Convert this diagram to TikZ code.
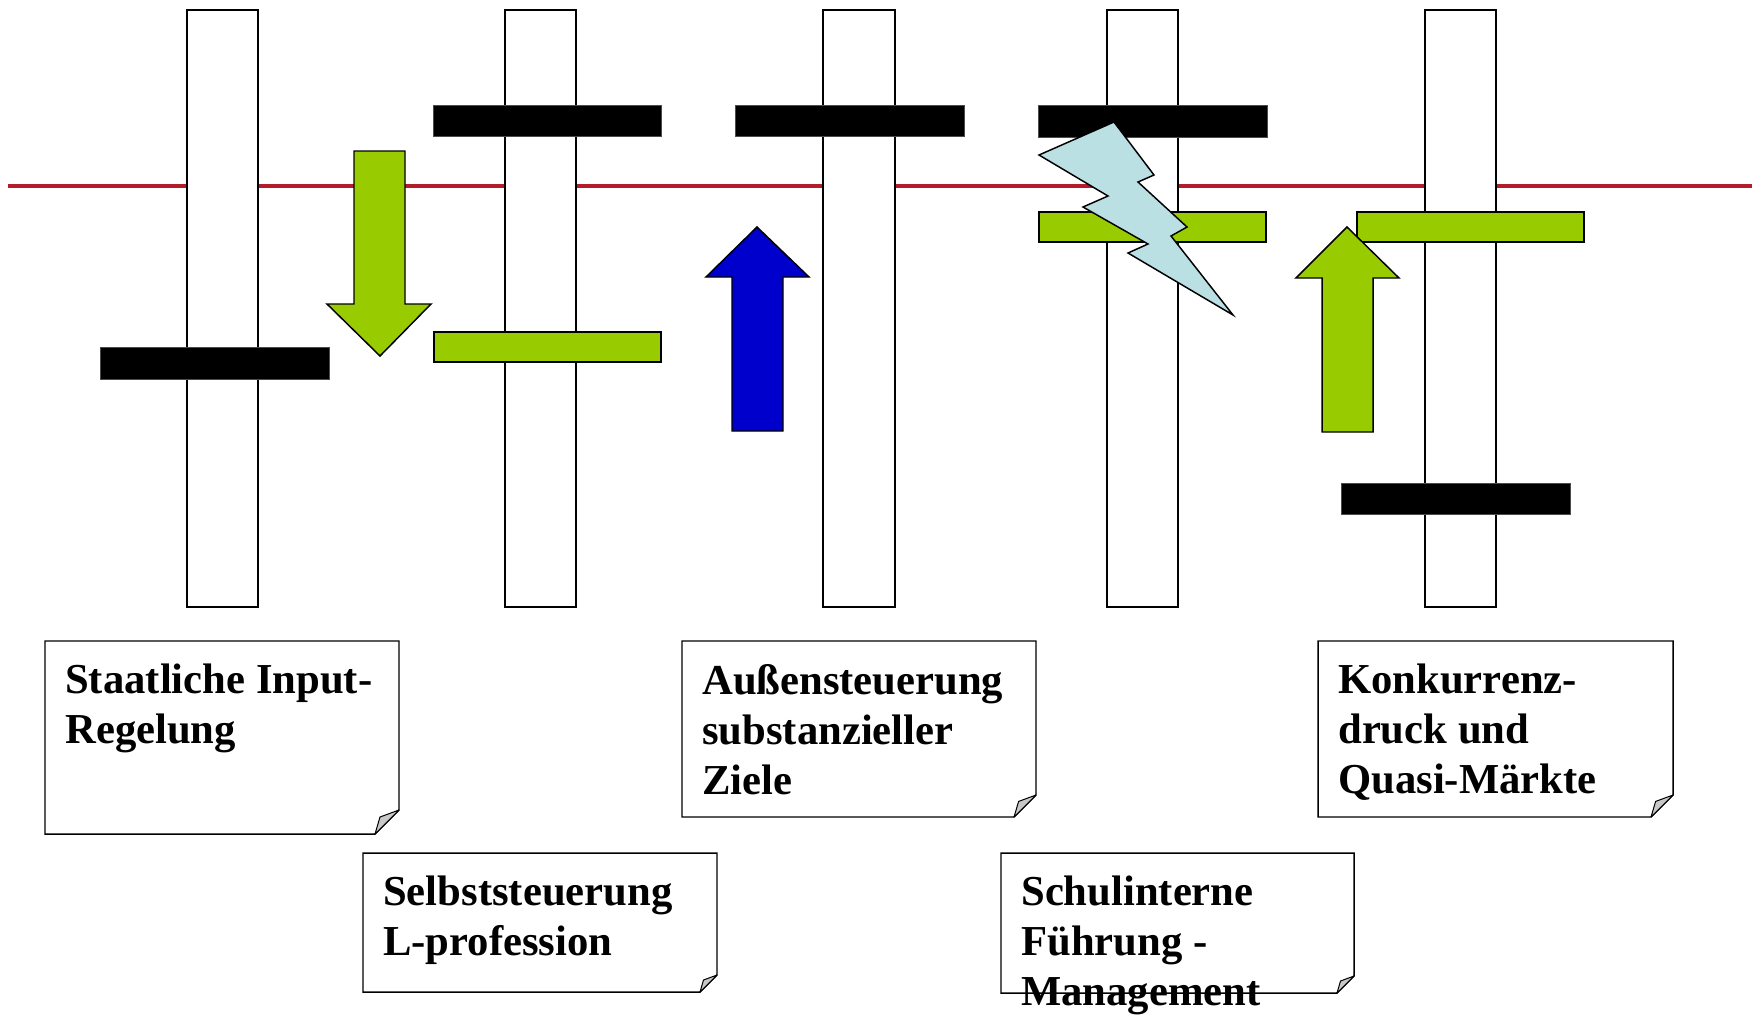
\documentclass[tikz,border=0pt]{standalone}
\usepackage{fontspec}
\setmainfont{Liberation Serif}
\usepackage{tikz}
\usetikzlibrary{positioning}

\definecolor{barGreen}{RGB}{153,204,0}
\definecolor{arrowBlue}{RGB}{0,0,204}
\definecolor{boltBlue}{RGB}{187,224,227}
\definecolor{lineRed}{RGB}{180,28,44}
\definecolor{foldGray}{RGB}{200,200,200}

\tikzset{
  column/.style={draw=black, fill=white, line width=1.1pt},
  blackbar/.style={fill=black, draw=black!70, line width=0.5pt},
  greenbar/.style={fill=barGreen, draw=black, line width=1.1pt},
  blockarrow/.style={draw=black, line width=1.1pt, line join=miter},
  note/.style={draw=black, fill=white, line width=1.1pt},
  fold/.style={draw=black, fill=foldGray, line width=0.75pt, line join=round},
  notetext/.style={anchor=north west, inner sep=0.75pt, align=left,
    font=\fontsize{32}{37.5}\selectfont\bfseries}
}

\begin{document}
\begin{tikzpicture}[x=0.75pt,y=0.75pt,yscale=-1,xscale=1]
		\useasboundingbox (0,0) rectangle (1752,1015);

		%Straight Lines: red level
		\draw [lineRed, line width=3.6pt] (8,186) -- (1752,186) ;

		%Shape: Rectangle columns
		\draw [column] (187,10) rectangle (258,607) ;
		\draw [column] (505,10) rectangle (576,607) ;
		\draw [column] (823,10) rectangle (895,607) ;
		\draw [column] (1107,10) rectangle (1178,607) ;
		\draw [column] (1425,10) rectangle (1496,607) ;

		%Shape: Rectangle bars
		\draw [blackbar] (100,347) rectangle (329,379) ;
		\draw [blackbar] (433,105) rectangle (661,136) ;
		\draw [greenbar] (434,332) rectangle (661,362) ;
		\draw [blackbar] (735,105) rectangle (964,136) ;
		\draw [blackbar] (1038,105) rectangle (1267,137) ;
		\draw [greenbar] (1039,212) rectangle (1266,242) ;
		\draw [greenbar] (1357,212) rectangle (1584,242) ;
		\draw [blackbar] (1341,483) rectangle (1570,514) ;

		%Shape: Down Arrow
		\draw [blockarrow, fill=barGreen] (354,151) -- (405,151) -- (405,304) -- (431,304) -- (380,356) -- (327,304) -- (354,304) -- cycle ;
		%Shape: Up Arrow
		\draw [blockarrow, fill=arrowBlue] (732,431) -- (783,431) -- (783,277) -- (809,277) -- (757,227) -- (706,277) -- (732,277) -- cycle ;
		%Shape: Up Arrow
		\draw [blockarrow, fill=barGreen] (1322,432) -- (1373,432) -- (1373,278) -- (1399,278) -- (1347,227) -- (1296,278) -- (1322,278) -- cycle ;

		%Shape: Lightning Bolt
		\draw [blockarrow, fill=boltBlue] (1114,122) -- (1154,175) -- (1138,182) -- (1187,227) -- (1171,236) -- (1233,315) -- (1128,253) -- (1148,244) -- (1083,207) -- (1108,196) -- (1039,155) -- cycle ;

		%Shape: Folded Corner
		\draw [note] (45,641) -- (399,641) -- (399,810) -- (375,834) -- (45,834) -- cycle ;
		\draw [fold] (399,810) -- (375,834) -- (380,817) -- cycle ;
		% Text Node
		\node [notetext] (input) at (64,663) {Staatliche Input-\\Regelung};

		%Shape: Folded Corner
		\draw [note] (363,853) -- (717,853) -- (717,975) -- (700,992) -- (363,992) -- cycle ;
		\draw [fold] (717,975) -- (700,992) -- (703.5,980) -- cycle ;
		% Text Node
		\node [notetext] (selbst) at (382,875) {Selbststeuerung\\L-profession};

		%Shape: Folded Corner
		\draw [note] (682,641) -- (1036,641) -- (1036,795) -- (1014,817) -- (682,817) -- cycle ;
		\draw [fold] (1036,795) -- (1014,817) -- (1018.6,801.4) -- cycle ;
		% Text Node
		\node [notetext] (aussen) at (701,663) {Außensteuerung\\substanzieller\\Ziele};

		%Shape: Folded Corner
		\draw [note] (1001,853) -- (1354,853) -- (1354,976) -- (1337,993) -- (1001,993) -- cycle ;
		\draw [fold] (1354,976) -- (1337,993) -- (1340.5,981) -- cycle ;
		% Text Node
		\node [notetext] (fuehrung) at (1020,875) {Schulinterne\\Führung -\\Management};

		%Shape: Folded Corner
		\draw [note] (1318,641) -- (1673,641) -- (1673,795) -- (1651,817) -- (1318,817) -- cycle ;
		\draw [fold] (1673,795) -- (1651,817) -- (1655.6,801.4) -- cycle ;
		% Text Node
		\node [notetext] (markt) at (1337,663) {Konkurrenz-\\druck und\\Quasi-Märkte};

	\end{tikzpicture}
\end{document}
